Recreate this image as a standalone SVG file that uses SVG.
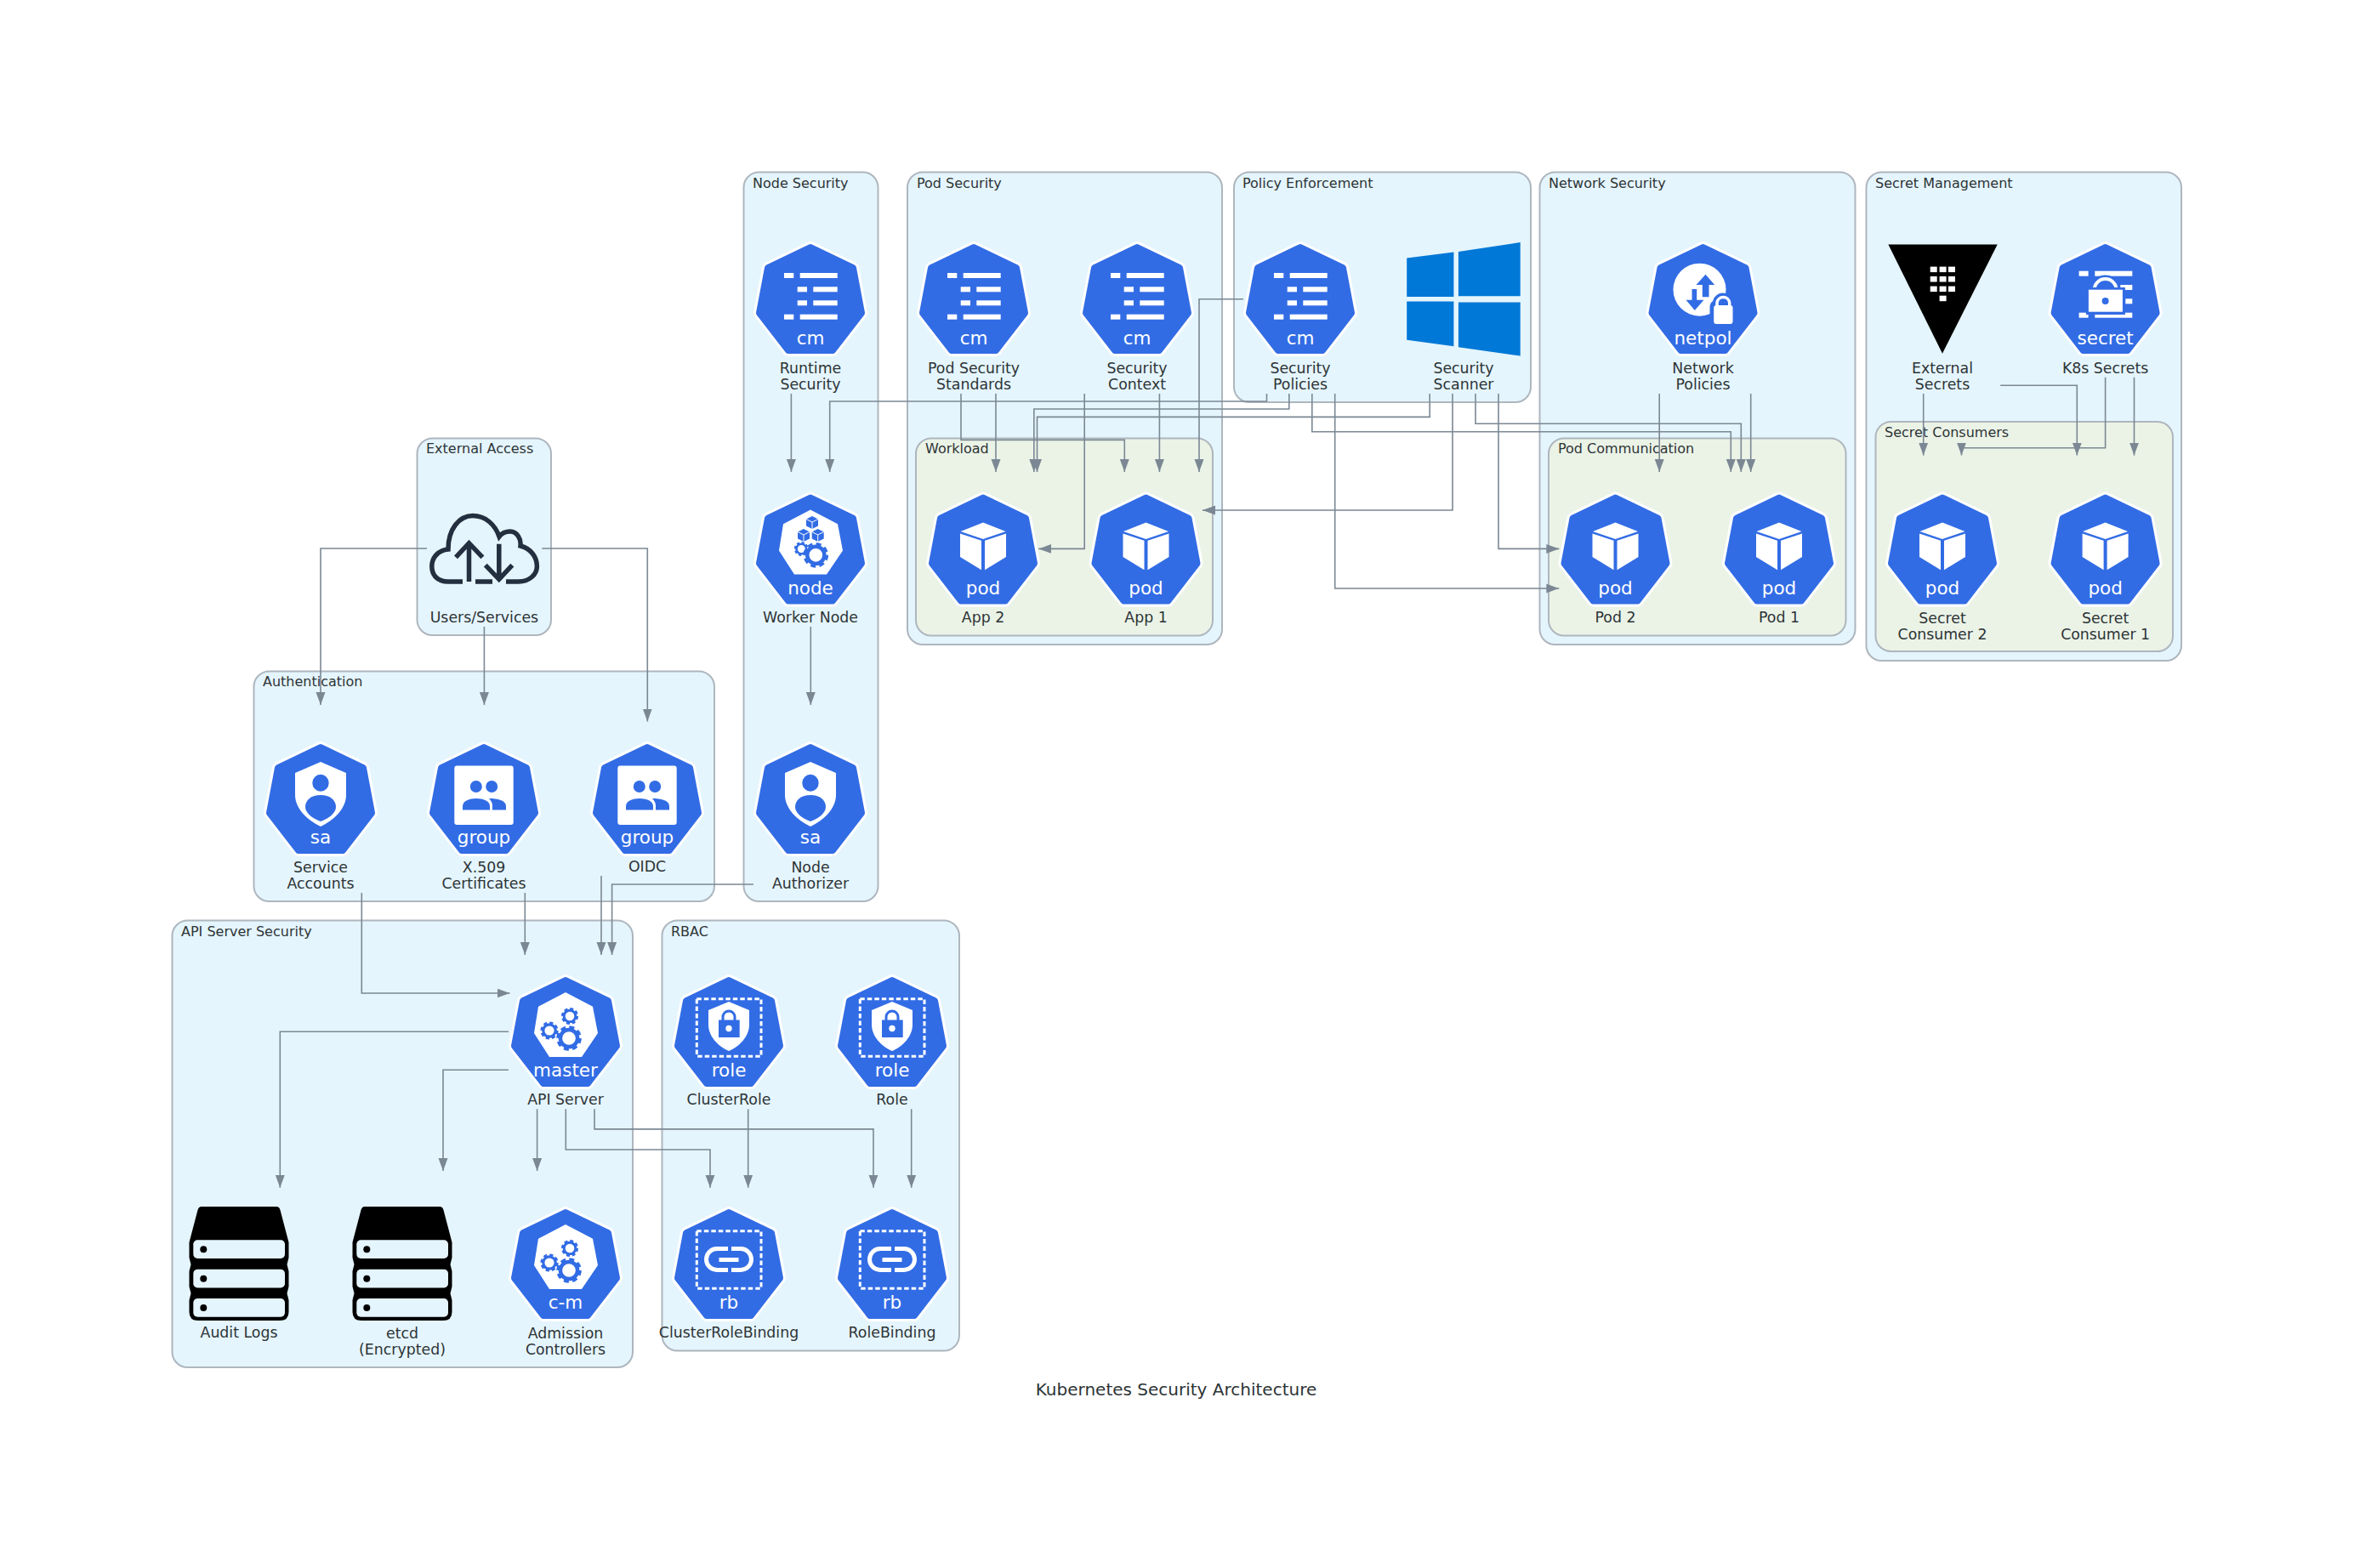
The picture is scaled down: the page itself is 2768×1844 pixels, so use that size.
<svg xmlns="http://www.w3.org/2000/svg" xmlns:xlink="http://www.w3.org/1999/xlink" width="2768" height="1844" viewBox="0 0 2768 1844">
<style>
text{font-family:"DejaVu Sans",sans-serif}
.c1{fill:#E5F5FD;stroke:#AEB6BE;stroke-width:2}
.c2{fill:#EBF3E7;stroke:#AEB6BE;stroke-width:2}
.ct{font-size:16px;fill:#2D3436}
.lb{font-size:17.33px;fill:#2D3436;text-anchor:middle}
.il{font-size:21.5px;fill:#fff;text-anchor:middle}
.w{fill:#fff}
.b{fill:#326CE5}
.e{fill:none;stroke:#7B8894;stroke-width:1.6;marker-end:url(#ah)}
</style>
<defs>
<marker id="ah" markerUnits="userSpaceOnUse" markerWidth="15" markerHeight="12" refX="15" refY="6" orient="auto"><path d="M0,0.5L15,6L0,11.5Z" fill="#7B8894"/></marker>
<g id="hept"><path d="M0,6L50,30L60,83L26,127H-26L-60,83L-50,30Z" fill="#fff" stroke="#fff" stroke-width="14" stroke-linejoin="round"/><path d="M0,6L50,30L60,83L26,127H-26L-60,83L-50,30Z" fill="#326CE5" stroke="#326CE5" stroke-width="8" stroke-linejoin="round"/></g>
<g id="ic-cm" class="w"><rect x="-31" y="36" width="11.3" height="6"/><rect x="-12.3" y="36" width="44" height="6"/><rect x="-15.3" y="52.3" width="11.3" height="6"/><rect x="3.3" y="52.3" width="28.4" height="6"/><rect x="-15.3" y="68.3" width="11.3" height="6"/><rect x="3.3" y="68.3" width="28.4" height="6"/><rect x="-31" y="84.7" width="11.3" height="6"/><rect x="-12.3" y="84.7" width="44" height="6"/></g>
<g id="ic-pod" class="w"><path d="M0,35L26.5,45.6L0,54.4L-26.5,45.6Z"/><path d="M-27,48L-2,56.3V90.7L-27,75.4Z"/><path d="M27,48L2,56.3V90.7L27,75.4Z"/></g>
<g id="ic-sa"><path class="w" d="M0,23L30,36V62C30,78 15,92 0,99C-15,92 -30,78 -30,62V36Z"/><ellipse class="b" cx="0" cy="47.7" rx="9.7" ry="10"/><path class="b" d="M0,62C11,62 18,68 18,76C18,84 8,90 0,93C-8,90 -18,84 -18,76C-18,68 -11,62 0,62Z"/></g>
<g id="ic-group"><rect class="w" x="-34.7" y="27.4" width="69.4" height="69.6" rx="3"/><circle class="b" cx="-9.2" cy="52" r="7"/><circle class="b" cx="9.2" cy="52" r="7"/><path class="b" d="M-25,79.6V75C-25,69 -17,66 -9,66C-1,66 7,69 7,75V79.6Z"/><path class="b" d="M10,79.6V74C10,71 8,68 6,66C16,66 26,68 26,75V79.6Z"/></g>
<g id="gear"><circle r="7.2" fill="none" stroke="#326CE5" stroke-width="3.2"/><circle r="9.2" fill="none" stroke="#326CE5" stroke-width="2.8" stroke-dasharray="4.2 3.02"/></g>
<path id="inner" class="w" d="M0,20L32,36.7L38,68L19,96H-19L-37,68L-32,36.7Z"/>
<g id="ic-master"><use xlink:href="#inner" href="#inner"/><use href="#gear" transform="translate(5,48) scale(.95)"/><use href="#gear" transform="translate(-19,65) scale(1)"/><use href="#gear" transform="translate(4,74) scale(1.4)"/></g>
<g id="cube"><path class="b" d="M0,-7.5L7,-4V4L0,7.5L-7,4V-4Z"/><path d="M-7,-4L0,-.5L7,-4M0,-.5V7.5" fill="none" stroke="#fff" stroke-width="1"/></g>
<g id="ic-node"><use href="#inner"/><use href="#cube" transform="translate(2,35)"/><use href="#cube" transform="translate(-8,50)"/><use href="#cube" transform="translate(8.7,50)"/><use href="#gear" transform="translate(-10.7,66) scale(.8)"/><use href="#gear" transform="translate(6.3,73.3) scale(1.4)"/></g>
<g id="dash"><rect x="-37.7" y="27.7" width="75.7" height="67.5" fill="none" stroke="#fff" stroke-width="3" stroke-dasharray="5.5 3"/></g>
<g id="ic-role"><use href="#dash"/><path class="w" d="M0,31L24,41V58C24,72 12,84 0,89C-12,84 -24,72 -24,58V41Z"/><rect class="b" x="-12" y="52.5" width="24.7" height="20.5"/><path d="M-7,53V49A7,7 0 0 1 7,49V53" fill="none" stroke="#326CE5" stroke-width="3"/><circle class="w" cx="0" cy="62.5" r="3.7"/></g>
<g id="ic-rb"><use href="#dash"/><path d="M-1,48.5H-14A12.5,12.5 0 0 0 -14,73.5H-1M3,48.5H14A12.5,12.5 0 0 1 14,73.5H3" fill="none" stroke="#fff" stroke-width="5"/><rect class="w" x="-11.5" y="59" width="23" height="5"/></g>
<g id="ic-netpol"><circle class="w" cx="-4" cy="55.7" r="31"/><path class="b" d="M3,37.7L13.7,50H7V64.3H-.7V50H-8Z"/><path class="b" d="M-9.7,80L1,67.7H-7.3V55H-13V67.7H-20Z"/><path class="b" d="M14.7,71V69A9,9 0 0 1 32,69V71Q36,72 36,77V94Q36,99 31,99H17Q11,99 11,94V77Q11,72 14.7,71Z" stroke="#326CE5" stroke-width="6"/><rect class="w" x="12.7" y="74" width="22.3" height="22" rx="3"/><path d="M16.5,75V71A7.4,7.4 0 0 1 31.2,71V75" fill="none" stroke="#fff" stroke-width="3.4"/></g>
<g id="ic-secret"><g class="w"><rect x="-31" y="33.7" width="11" height="6"/><rect x="-12.3" y="33.7" width="44" height="6"/><rect x="17.7" y="50" width="14" height="6"/><rect x="23.7" y="66.3" width="8" height="6"/><rect x="-31" y="82.7" width="11" height="6"/><rect x="-12.3" y="82.7" width="44" height="6"/></g><path d="M-13,56V56A13,13 0 0 1 13,56" fill="none" stroke="#326CE5" stroke-width="9"/><path d="M-13,56A13,13 0 0 1 13,56" fill="none" stroke="#fff" stroke-width="4"/><rect class="b" x="-22.7" y="53" width="46" height="32"/><rect class="w" x="-19.7" y="55.7" width="40" height="26"/><circle class="b" cx="0" cy="69" r="4"/></g>
<g id="ic-server"><path d="M-44,0H44Q47.5,0 48.5,4L58.5,42V60L56.5,68L58.5,76V94L56.5,102L58.5,110V124Q58.5,134 48,134H-48Q-58.5,134 -58.5,124V110L-56.5,102L-58.5,94V76L-56.5,68L-58.5,60V42L-48.5,4Q-47.5,0 -44,0Z"/><g fill="#E5F5FD"><rect x="-53.7" y="39.3" width="107.7" height="21.7" rx="5"/><rect x="-53.7" y="73.7" width="107.7" height="21.7" rx="5"/><rect x="-53.7" y="108" width="107.7" height="21.7" rx="5"/></g><circle cx="-41.7" cy="50.3" r="4"/><circle cx="-41.7" cy="84.7" r="4"/><circle cx="-41.7" cy="119" r="4"/></g>
</defs>
<rect width="2768" height="1844" fill="#fff"/>
<g id="clusters">
<g id="cl-node-security"><rect class="c1" x="874.500" y="202.500" width="158" height="857.500" rx="18"/><text class="ct" x="885" y="221">Node Security</text></g>
<g id="cl-pod-security"><rect class="c1" x="1067" y="202.500" width="370" height="555.500" rx="18"/><text class="ct" x="1078" y="221">Pod Security</text></g>
<g id="cl-workload"><rect class="c2" x="1077" y="515.500" width="349" height="232" rx="18"/><text class="ct" x="1088" y="533">Workload</text></g>
<g id="cl-policy"><rect class="c1" x="1451" y="202.500" width="349" height="270.500" rx="18"/><text class="ct" x="1461" y="221">Policy Enforcement</text></g>
<g id="cl-network"><rect class="c1" x="1810.500" y="202.500" width="371" height="555.500" rx="18"/><text class="ct" x="1821" y="221">Network Security</text></g>
<g id="cl-podcomm"><rect class="c2" x="1821" y="515.500" width="349.500" height="232" rx="18"/><text class="ct" x="1832" y="533">Pod Communication</text></g>
<g id="cl-secret"><rect class="c1" x="2194.500" y="202.500" width="370.500" height="574.500" rx="18"/><text class="ct" x="2205" y="221">Secret Management</text></g>
<g id="cl-consumers"><rect class="c2" x="2205.500" y="496" width="349.500" height="270" rx="18"/><text class="ct" x="2216" y="514">Secret Consumers</text></g>
<g id="cl-external"><rect class="c1" x="490.500" y="515.500" width="157.500" height="231.500" rx="18"/><text class="ct" x="501" y="533">External Access</text></g>
<g id="cl-auth"><rect class="c1" x="298.500" y="789.500" width="541.500" height="270.500" rx="18"/><text class="ct" x="309" y="807">Authentication</text></g>
<g id="cl-api"><rect class="c1" x="202.500" y="1082.500" width="541.500" height="525.500" rx="18"/><text class="ct" x="213" y="1101">API Server Security</text></g>
<g id="cl-rbac"><rect class="c1" x="778.500" y="1082.500" width="349.500" height="506" rx="18"/><text class="ct" x="789" y="1101">RBAC</text></g>
</g>
<g id="nodes">
<g id="n-runtime" transform="translate(953,285)"><use href="#hept"/><use href="#ic-cm"/><text class="il" y="120">cm</text><text class="lb" y="153.700">Runtime</text><text class="lb" y="172.700">Security</text></g>
<g id="n-pss" transform="translate(1145,285)"><use href="#hept"/><use href="#ic-cm"/><text class="il" y="120">cm</text><text class="lb" y="153.700">Pod Security</text><text class="lb" y="172.700">Standards</text></g>
<g id="n-secctx" transform="translate(1337,285)"><use href="#hept"/><use href="#ic-cm"/><text class="il" y="120">cm</text><text class="lb" y="153.700">Security</text><text class="lb" y="172.700">Context</text></g>
<g id="n-policies" transform="translate(1529,285)"><use href="#hept"/><use href="#ic-cm"/><text class="il" y="120">cm</text><text class="lb" y="153.700">Security</text><text class="lb" y="172.700">Policies</text></g>
<g id="n-scanner"><path fill="#0078D7" d="M1654.200,303.600L1709.400,296.500V349H1654.200ZM1714.900,296L1787.700,285V348.300H1714.900ZM1654.200,354.600H1709.400V407.200L1654.200,399.800ZM1714.900,355.400H1787.700V418.600L1714.900,408.300Z"/><text class="lb" x="1721" y="438.700">Security</text><text class="lb" x="1721" y="457.700">Scanner</text></g>
<g id="n-netpol" transform="translate(2002.5,285)"><use href="#hept"/><use href="#ic-netpol"/><text class="il" y="120">netpol</text><text class="lb" y="153.700">Network</text><text class="lb" y="172.700">Policies</text></g>
<g id="n-external-secrets"><path d="M2220.400,287.600H2348.700L2284,415.800Z"/><g fill="#fff"><rect x="2269.700" y="313.600" width="8" height="6.500"/><rect x="2280.600" y="313.600" width="8" height="6.500"/><rect x="2291" y="313.600" width="8" height="6.500"/><rect x="2269.700" y="325" width="8" height="6.500"/><rect x="2280.600" y="325" width="8" height="6.500"/><rect x="2291" y="325" width="8" height="6.500"/><rect x="2269.700" y="336.600" width="8" height="6.500"/><rect x="2280.600" y="336.600" width="8" height="6.500"/><rect x="2291" y="336.600" width="8" height="6.500"/><rect x="2280.600" y="347.700" width="8" height="6.500"/></g><text class="lb" x="2284" y="438.700">External</text><text class="lb" x="2284" y="457.700">Secrets</text></g>
<g id="n-k8s-secrets" transform="translate(2475.6,285)"><use href="#hept"/><use href="#ic-secret"/><text class="il" y="120">secret</text><text class="lb" y="153.700">K8s Secrets</text></g>
<g id="n-worker" transform="translate(953,579.5)"><use href="#hept"/><use href="#ic-node"/><text class="il" y="119">node</text><text class="lb" y="152.500">Worker Node</text></g>
<g id="n-app2" transform="translate(1156,579.5)"><use href="#hept"/><use href="#ic-pod"/><text class="il" y="119">pod</text><text class="lb" y="152.500">App 2</text></g>
<g id="n-app1" transform="translate(1347.5,579.5)"><use href="#hept"/><use href="#ic-pod"/><text class="il" y="119">pod</text><text class="lb" y="152.500">App 1</text></g>
<g id="n-pod2" transform="translate(1899.5,579.5)"><use href="#hept"/><use href="#ic-pod"/><text class="il" y="119">pod</text><text class="lb" y="152.500">Pod 2</text></g>
<g id="n-pod1" transform="translate(2092,579.5)"><use href="#hept"/><use href="#ic-pod"/><text class="il" y="119">pod</text><text class="lb" y="152.500">Pod 1</text></g>
<g id="n-consumer2" transform="translate(2284,579.5)"><use href="#hept"/><use href="#ic-pod"/><text class="il" y="119">pod</text><text class="lb" y="153.500">Secret</text><text class="lb" y="172.500">Consumer 2</text></g>
<g id="n-consumer1" transform="translate(2475.6,579.5)"><use href="#hept"/><use href="#ic-pod"/><text class="il" y="119">pod</text><text class="lb" y="153.500">Secret</text><text class="lb" y="172.500">Consumer 1</text></g>
<g id="n-users"><path d="M544,684H527C514,684 507.800,676 507.800,666C507.800,655 516,647 527,646C527,622 540,606.500 556,606.500C571,606.500 582,617 587,631C590,627 595,625 600,625C608,625 613,634 612,642C624,645 631.400,655 631.400,666C631.400,676 622,684 609.600,684H595M559,684H579M551.500,684V639M536,655.400L551.500,638.700L567.400,655.400M586.800,639.800V681M570.800,664.600L586.800,681.300L602.300,664.600" fill="none" stroke="#232F3E" stroke-width="5.500"/><text class="lb" x="569.400" y="732">Users/Services</text></g>
<g id="n-sa" transform="translate(377,873)"><use href="#hept"/><use href="#ic-sa"/><text class="il" y="119">sa</text><text class="lb" y="153">Service</text><text class="lb" y="172">Accounts</text></g>
<g id="n-x509" transform="translate(569,873)"><use href="#hept"/><use href="#ic-group"/><text class="il" y="119">group</text><text class="lb" y="153">X.509</text><text class="lb" y="172">Certificates</text></g>
<g id="n-oidc" transform="translate(761,873)"><use href="#hept"/><use href="#ic-group"/><text class="il" y="119">group</text><text class="lb" y="152">OIDC</text></g>
<g id="n-nodeauth" transform="translate(953,873)"><use href="#hept"/><use href="#ic-sa"/><text class="il" y="119">sa</text><text class="lb" y="153">Node</text><text class="lb" y="172">Authorizer</text></g>
<g id="n-api" transform="translate(665,1147)"><use href="#hept"/><use href="#ic-master"/><text class="il" y="119">master</text><text class="lb" y="152">API Server</text></g>
<g id="n-clusterrole" transform="translate(857,1147)"><use href="#hept"/><use href="#ic-role"/><text class="il" y="119">role</text><text class="lb" y="152">ClusterRole</text></g>
<g id="n-role" transform="translate(1049,1147)"><use href="#hept"/><use href="#ic-role"/><text class="il" y="119">role</text><text class="lb" y="152">Role</text></g>
<g id="n-audit" transform="translate(281,1419)"><use href="#ic-server"/><text class="lb" y="154">Audit Logs</text></g>
<g id="n-etcd" transform="translate(473,1419)"><use href="#ic-server"/><text class="lb" y="154.5">etcd</text><text class="lb" y="173.5">(Encrypted)</text></g>
<g id="n-admission" transform="translate(665,1420)"><use href="#hept"/><use href="#ic-master"/><text class="il" y="119">c-m</text><text class="lb" y="153.500">Admission</text><text class="lb" y="172.500">Controllers</text></g>
<g id="n-crb" transform="translate(857,1420)"><use href="#hept"/><use href="#ic-rb"/><text class="il" y="119">rb</text><text class="lb" y="152.500">ClusterRoleBinding</text></g>
<g id="n-rb" transform="translate(1049,1420)"><use href="#hept"/><use href="#ic-rb"/><text class="il" y="119">rb</text><text class="lb" y="152.500">RoleBinding</text></g>
</g>
<g id="connectors">
<path class="e" d="M930.400,463V555"/>
<path class="e" d="M1489.500,463V472H975.700V555"/>
<path class="e" d="M1171,463V555"/>
<path class="e" d="M1130,463V517.400H1322.300V555"/>
<path class="e" d="M1275.200,463V645.400H1221.300"/>
<path class="e" d="M1363.400,463V555"/>
<path class="e" d="M1462,351.700H1410V555"/>
<path class="e" d="M1515.800,463V481H1215.800V555"/>
<path class="e" d="M1681.200,463V490.400H1219.500V555"/>
<path class="e" d="M1708,463V600H1414"/>
<path class="e" d="M1542.800,463V507.700H2035.300V555"/>
<path class="e" d="M1735,463V498.300H2047.300V555"/>
<path class="e" d="M1569.700,463V692H1833.300"/>
<path class="e" d="M1762,463V645.400H1833.300"/>
<path class="e" d="M1951.200,463V555"/>
<path class="e" d="M2058.700,463V555"/>
<path class="e" d="M2261.700,463V535.600"/>
<path class="e" d="M2352.200,453.300H2442.300V535.600"/>
<path class="e" d="M2475.600,443.700V526.800H2306.500V535.600"/>
<path class="e" d="M2509.500,443.700V535.600"/>
<path class="e" d="M502,645H377V829"/>
<path class="e" d="M569.400,737V829"/>
<path class="e" d="M637.300,645H761.300V848.500"/>
<path class="e" d="M953.300,737V829"/>
<path class="e" d="M886,1040H719.600V1123"/>
<path class="e" d="M707,1030V1123"/>
<path class="e" d="M617.300,1050V1123"/>
<path class="e" d="M425.300,1050V1168H599.500"/>
<path class="e" d="M598,1213.200H329.300V1396.800"/>
<path class="e" d="M598,1258.200H521V1377"/>
<path class="e" d="M631.600,1304.300V1377"/>
<path class="e" d="M665.300,1304.300V1352H835V1396.800"/>
<path class="e" d="M699,1304.300V1327.900H1027V1396.800"/>
<path class="e" d="M879.700,1304.300V1396.800"/>
<path class="e" d="M1071.700,1304.300V1396.800"/>
</g>
<text id="title" x="1383" y="1640.500" font-size="20" fill="#2D3436" text-anchor="middle">Kubernetes Security Architecture</text>
</svg>
